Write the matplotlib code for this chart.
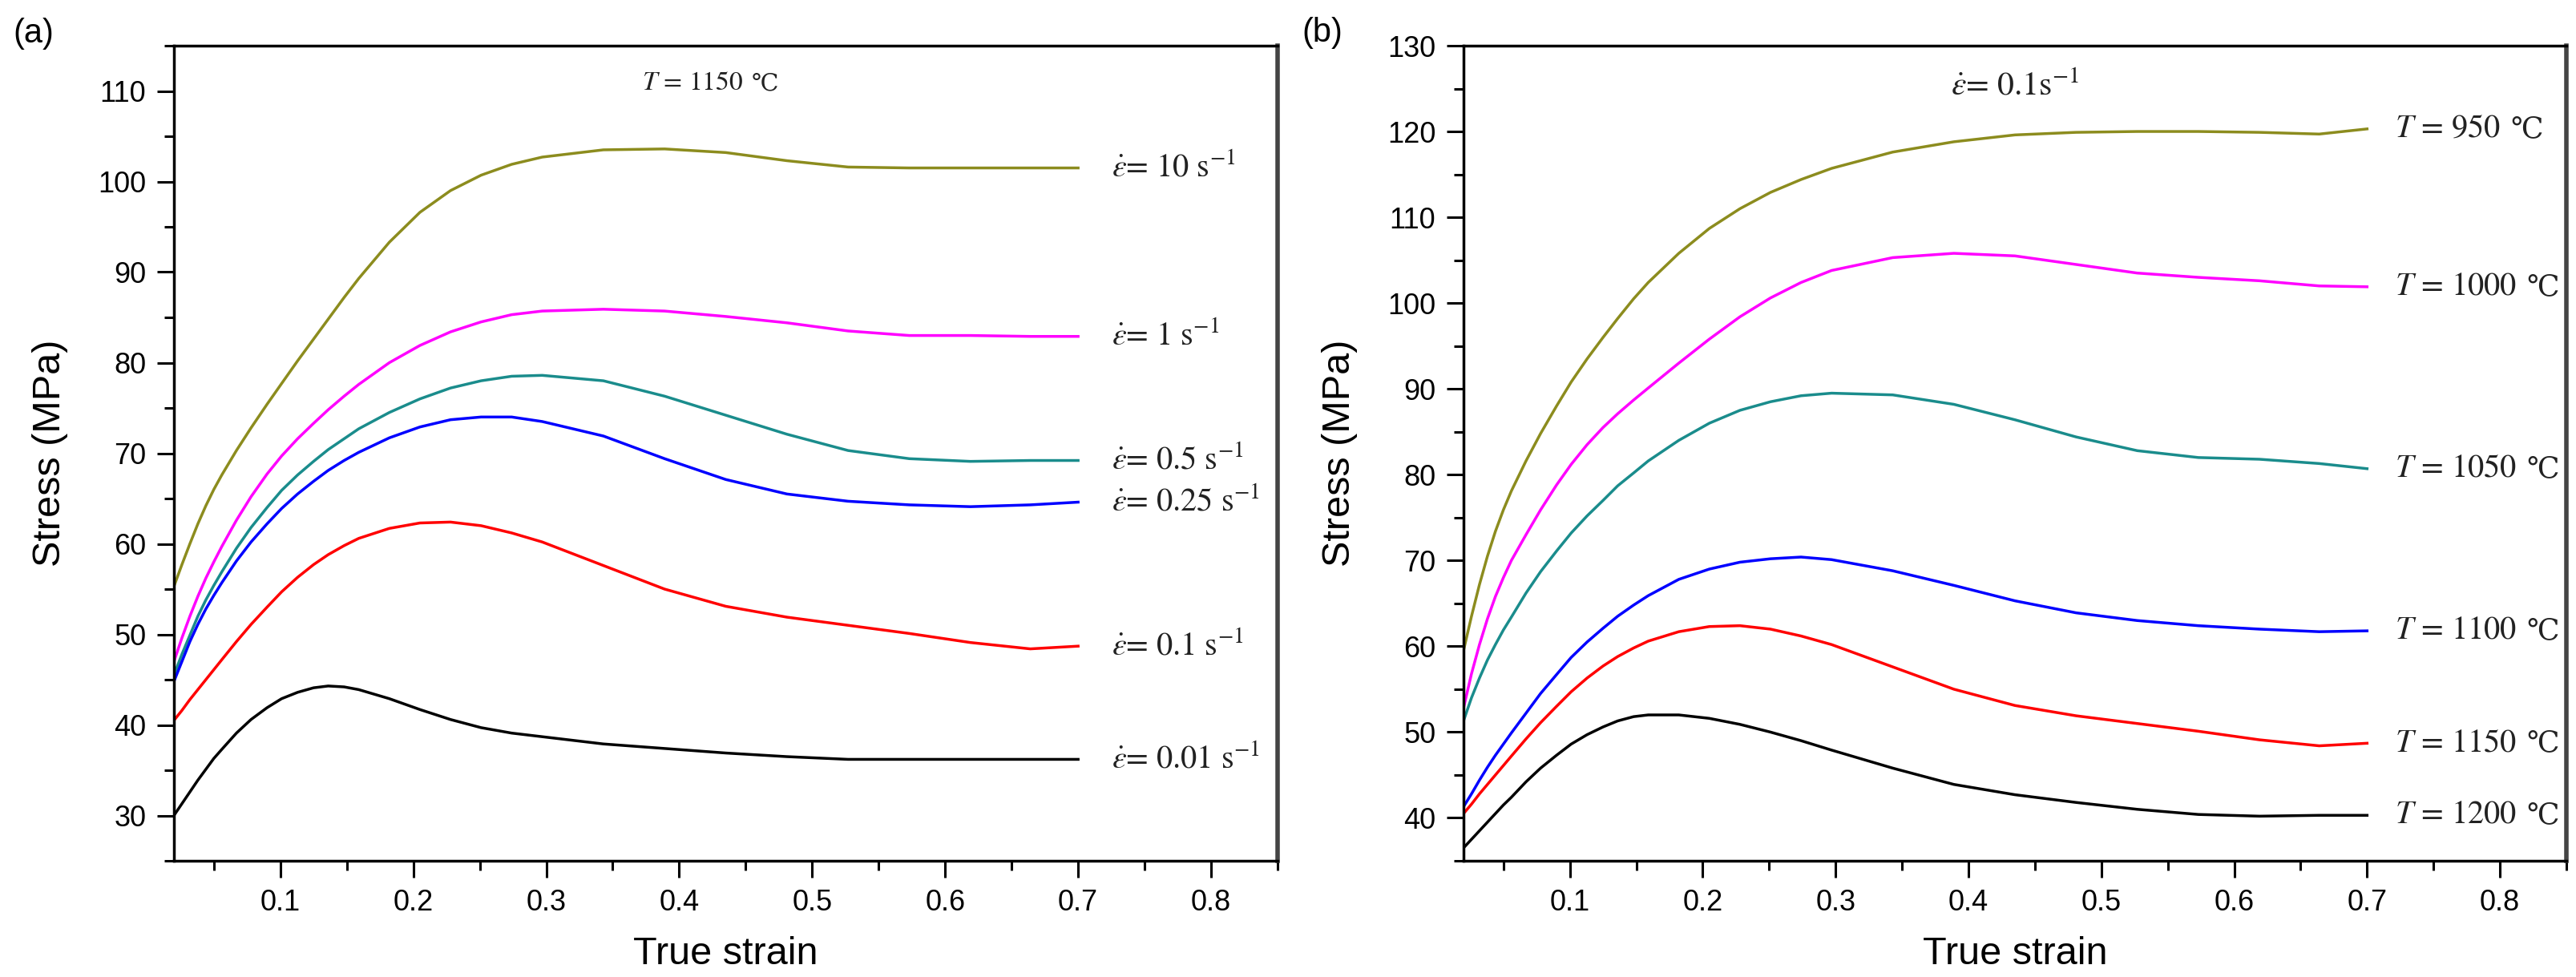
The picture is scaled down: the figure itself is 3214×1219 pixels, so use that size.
import numpy as np
import matplotlib.pyplot as plt
from matplotlib.ticker import MultipleLocator

plt.rcParams['font.family'] = ['Liberation Sans', 'DejaVu Sans']
plt.rcParams['mathtext.fontset'] = 'stix'

# strain points (same grid for all curves)
strain = [0.020, 0.026, 0.032, 0.038, 0.044, 0.050, 0.056, 0.067, 0.078, 0.090, 0.101,
          0.113, 0.125, 0.136, 0.148, 0.159, 0.182, 0.205, 0.228, 0.251, 0.274, 0.297,
          0.343, 0.389, 0.435, 0.481, 0.527, 0.573, 0.619, 0.664, 0.700]

# (a) T = 1150 C, different strain rates
rate_labels = ['10', '1', '0.5', '0.25', '0.1', '0.01']
s_10 = [55.3, 57.7, 60.0, 62.2, 64.2, 66.0, 67.6, 70.3, 72.8, 75.4, 77.7,
        80.2, 82.6, 84.8, 87.2, 89.3, 93.3, 96.6, 99.0, 100.7, 101.9, 102.7,
        103.5, 103.6, 103.2, 102.3, 101.6, 101.5, 101.5, 101.5, 101.5]
s_1 = [47.0, 49.6, 52.0, 54.2, 56.2, 58.0, 59.7, 62.6, 65.2, 67.7, 69.7,
       71.6, 73.3, 74.8, 76.3, 77.6, 80.0, 81.9, 83.4, 84.5, 85.3, 85.7,
       85.9, 85.7, 85.1, 84.4, 83.5, 83.0, 83.0, 82.9, 82.9]
s_05 = [45.5, 47.8, 49.9, 52.0, 53.8, 55.4, 56.9, 59.5, 61.8, 64.0, 65.9,
        67.6, 69.1, 70.4, 71.6, 72.7, 74.5, 76.0, 77.2, 78.0, 78.5, 78.6,
        78.0, 76.3, 74.2, 72.1, 70.3, 69.4, 69.1, 69.2, 69.2]
s_025 = [44.8, 47.0, 49.2, 51.1, 52.8, 54.3, 55.7, 58.1, 60.2, 62.2, 63.9,
         65.5, 66.9, 68.1, 69.2, 70.1, 71.7, 72.9, 73.7, 74.0, 74.0, 73.5,
         71.9, 69.4, 67.1, 65.5, 64.7, 64.3, 64.1, 64.3, 64.6]
s_01 = [40.5, 41.6, 42.8, 43.9, 45.0, 46.1, 47.2, 49.2, 51.1, 53.0, 54.7,
        56.3, 57.7, 58.8, 59.8, 60.6, 61.7, 62.3, 62.4, 62.0, 61.2, 60.2,
        57.6, 55.0, 53.1, 51.9, 51.0, 50.1, 49.1, 48.4, 48.7]
s_001 = [30.0, 31.3, 32.6, 33.9, 35.1, 36.3, 37.3, 39.1, 40.6, 41.9, 42.9,
         43.6, 44.1, 44.3, 44.2, 43.9, 42.9, 41.7, 40.6, 39.7, 39.1, 38.7,
         37.9, 37.4, 36.9, 36.5, 36.2, 36.2, 36.2, 36.2, 36.2]

# (b) strain rate 0.1 /s, different temperatures
temp_labels = ['950', '1000', '1050', '1100', '1150', '1200']
t_950 = [59.5, 63.5, 67.2, 70.5, 73.4, 75.9, 78.1, 81.6, 84.8, 88.0, 90.8,
         93.5, 96.0, 98.2, 100.5, 102.4, 105.8, 108.7, 111.0, 112.9, 114.4, 115.7,
         117.6, 118.8, 119.6, 119.9, 120.0, 120.0, 119.9, 119.7, 120.3]
t_1000 = [52.8, 56.8, 60.2, 63.2, 65.8, 68.0, 70.0, 73.0, 75.9, 78.8, 81.2,
          83.5, 85.5, 87.1, 88.7, 90.1, 93.0, 95.8, 98.4, 100.6, 102.4, 103.8,
          105.3, 105.8, 105.5, 104.5, 103.5, 103.0, 102.6, 102.0, 101.9]
t_1050 = [51.3, 54.0, 56.3, 58.4, 60.2, 61.9, 63.4, 66.2, 68.7, 71.1, 73.2,
          75.2, 77.0, 78.7, 80.2, 81.6, 84.0, 86.0, 87.5, 88.5, 89.2, 89.5,
          89.3, 88.2, 86.4, 84.4, 82.8, 82.0, 81.8, 81.3, 80.7]
t_1100 = [41.3, 42.8, 44.4, 45.9, 47.3, 48.6, 49.9, 52.2, 54.5, 56.7, 58.7,
          60.5, 62.1, 63.5, 64.8, 65.9, 67.8, 69.0, 69.8, 70.2, 70.4, 70.1,
          68.8, 67.1, 65.3, 63.9, 63.0, 62.4, 62.0, 61.7, 61.8]
t_1150 = [40.5, 41.6, 42.8, 43.9, 45.0, 46.1, 47.2, 49.2, 51.1, 53.0, 54.7,
          56.3, 57.7, 58.8, 59.8, 60.6, 61.7, 62.3, 62.4, 62.0, 61.2, 60.2,
          57.6, 55.0, 53.1, 51.9, 51.0, 50.1, 49.1, 48.4, 48.7]
t_1200 = [36.5, 37.5, 38.5, 39.5, 40.5, 41.5, 42.4, 44.2, 45.8, 47.3, 48.6,
          49.7, 50.6, 51.3, 51.8, 52.0, 52.0, 51.6, 50.9, 50.0, 49.0, 47.9,
          45.8, 43.9, 42.7, 41.8, 41.0, 40.4, 40.2, 40.3, 40.3]

colors = ['#8c8c1e', '#ff00ff', '#1a8c8c', '#0000ff', '#ff0000', '#000000']

fig = plt.figure(figsize=(32.14, 12.19), dpi=100)
ax1 = fig.add_axes([217/3214, 145/1219, 1377/3214, 1017/1219])
ax2 = fig.add_axes([1826/3214, 145/1219, 1376/3214, 1017/1219])


def style(ax, ylo, yhi):
    ax.set_xlim(0.02, 0.85)
    ax.set_ylim(ylo, yhi)
    ax.xaxis.set_major_locator(MultipleLocator(0.1))
    ax.xaxis.set_minor_locator(MultipleLocator(0.05))
    ax.yaxis.set_major_locator(MultipleLocator(10))
    ax.yaxis.set_minor_locator(MultipleLocator(5))
    ax.tick_params(which='major', direction='out', length=15, width=2.2,
                   labelsize=26, pad=10, top=False, right=False)
    ax.tick_params(which='minor', direction='out', length=8.5, width=2.2,
                   top=False, right=False)
    for sp in ax.spines.values():
        sp.set_linewidth(2.5)
    ax.spines['right'].set_color('#444444')
    ax.spines['right'].set_linewidth(4)
    ax.set_xticks([0.1, 0.2, 0.3, 0.4, 0.5, 0.6, 0.7, 0.8])
    ax.set_xticklabels(['0.1', '0.2', '0.3', '0.4', '0.5', '0.6', '0.7', '0.8'])
    ax.set_xlabel('True strain', fontsize=35)
    ax.set_ylabel('Stress (MPa)', fontsize=35)
    ax.xaxis.set_label_coords(0.5, -0.092)
    ax.yaxis.set_label_coords(-0.096, 0.5)


def celsius(ax, t, size):
    # degree-Celsius sign drawn right after the text t
    ax.annotate('\u2103', xy=(1, 0.5), xycoords=t, xytext=(size * 0.3, 0),
                textcoords='offset points', fontsize=size * 0.9,
                family=['DejaVu Serif', 'DejaVu Sans'], va='center', ha='left',
                color='#222222')


style(ax1, 25, 115)
style(ax2, 35, 130)

serif = ['STIXGeneral', 'DejaVu Serif']

series_a = [s_10, s_1, s_05, s_025, s_01, s_001]
for ys, c, lab in zip(series_a, colors, rate_labels):
    ax1.plot(strain, ys, color=c, lw=2.5)
    ax1.text(0.725, ys[-1], r'$\dot{\varepsilon}$= ' + lab + r' s$^{\mathrm{-1}}$',
             fontsize=29, family=serif, va='center', ha='left', color='#222222')

series_b = [t_950, t_1000, t_1050, t_1100, t_1150, t_1200]
for ys, c, lab in zip(series_b, colors, temp_labels):
    ax2.plot(strain, ys, color=c, lw=2.5)
    t = ax2.text(0.721, ys[-1], r'$T$ = ' + lab,
                 fontsize=29, family=serif, va='center', ha='left', color='#222222')
    celsius(ax2, t, 29)

t = ax1.text(0.47, 0.953, r'$T$ = 1150', transform=ax1.transAxes, fontsize=24,
             family=serif, ha='center', va='center', color='#222222')
celsius(ax1, t, 24)
ax2.text(0.5, 0.95, r'$\dot{\varepsilon}$= 0.1s$^{\mathrm{-1}}$', transform=ax2.transAxes,
         fontsize=30, family=serif, ha='center', va='center', color='#222222')

fig.text(42/3214, 1 - 42/1219, '(a)', fontsize=30, ha='center', va='center')
fig.text(1650/3214, 1 - 41/1219, '(b)', fontsize=30, ha='center', va='center')

fig.savefig('out.png', dpi=100)
